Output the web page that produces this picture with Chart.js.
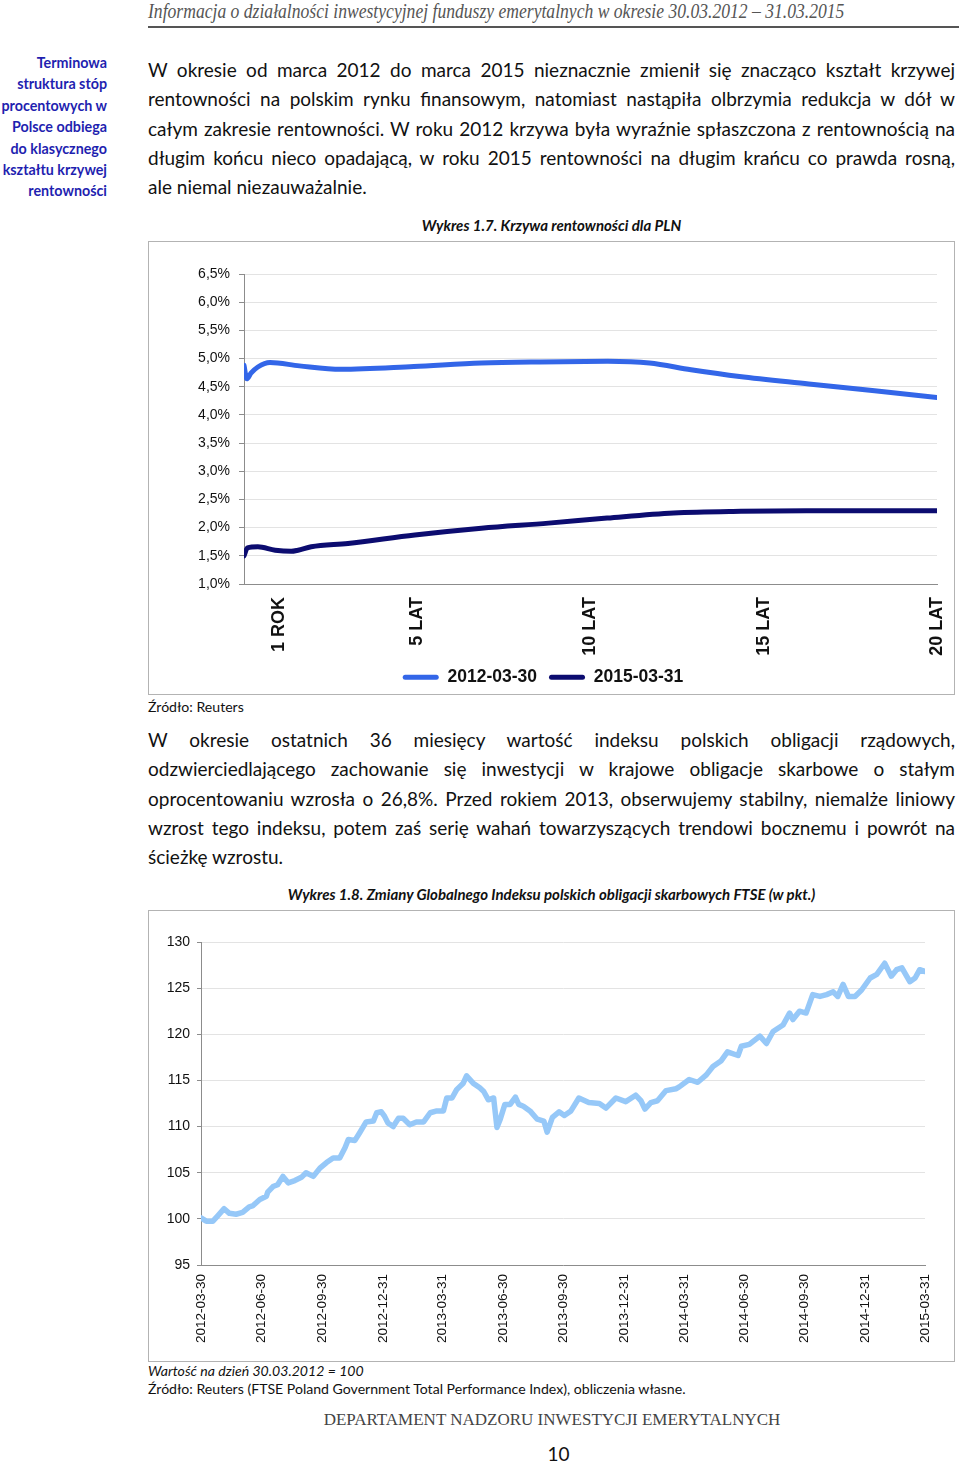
<!DOCTYPE html>
<html lang="pl">
<head>
<meta charset="utf-8">
<title>Krzywa rentowności i indeks obligacji</title>
<script src="https://cdn.jsdelivr.net/npm/chart.js@4.4.1/dist/chart.umd.min.js"></script>
<style>
  body { margin: 0; width: 960px; height: 1463px; position: relative; overflow: hidden; background: #fff; color: #111; font-family: Lato, "Open Sans", sans-serif; }
  .abs { position: absolute; }
  .header { left: 148px; top: 0; font-family: "Liberation Serif", serif; font-style: italic; font-size: 20px; line-height: 22px; color: #555; white-space: nowrap; transform: scaleX(0.88); transform-origin: left top; }
  .rule { left: 148px; top: 26px; width: 811px; border-top: 2px solid #555; }
  .side { left: 0; top: 52px; width: 107px; text-align: right; color: #1f1fb0; font-weight: bold; font-size: 14.3px; line-height: 21.4px; }
  .para { left: 148px; width: 807px; font-size: 19px; line-height: 29.3px; }
  .para div { text-align: justify; text-align-last: justify; white-space: nowrap; }
  .para div.last { text-align-last: left; }
  .caption { left: 148px; width: 807px; text-align: center; font-weight: bold; font-style: italic; font-size: 15px; }
  .note { left: 148px; font-size: 14.1px; line-height: 18px; }
  .box { border: 1px solid #b3b3b3; background: #fff; }
  .footer { left: 0; width: 1104px; text-align: center; top: 1410px; font-family: "Liberation Serif", serif; font-size: 17px; color: #444; }
  .page { left: 0; width: 1117px; text-align: center; top: 1442px; font-size: 19px; }
</style>
</head>
<body>
<div class="abs header">Informacja o działalności inwestycyjnej funduszy emerytalnych w okresie 30.03.2012 – 31.03.2015</div>
<div class="abs rule"></div>

<div class="abs side">Terminowa<br>struktura stóp<br>procentowych w<br>Polsce odbiega<br>do klasycznego<br>kształtu krzywej<br>rentowności</div>

<div class="abs para" style="top:55px">
  <div>W okresie od marca 2012 do marca 2015 nieznacznie zmienił się znacząco kształt krzywej</div>
  <div>rentowności na polskim rynku finansowym, natomiast nastąpiła olbrzymia redukcja w dół w</div>
  <div>całym zakresie rentowności. W roku 2012 krzywa była wyraźnie spłaszczona z rentownością na</div>
  <div>długim końcu nieco opadającą, w roku 2015 rentowności na długim krańcu co prawda rosną,</div>
  <div class="last">ale niemal niezauważalnie.</div>
</div>

<div class="abs caption" style="top:216px">Wykres 1.7. Krzywa rentowności dla PLN</div>
<div class="abs box" style="left:148px; top:241px; width:805px; height:452px;">
  <canvas id="yieldChart" width="805" height="452"></canvas>
</div>
<div class="abs note" style="top:698px">Źródło: Reuters</div>

<div class="abs para" style="top:725px">
  <div>W okresie ostatnich 36 miesięcy wartość indeksu polskich obligacji rządowych,</div>
  <div>odzwierciedlającego zachowanie się inwestycji w krajowe obligacje skarbowe o stałym</div>
  <div>oprocentowaniu wzrosła o 26,8%. Przed rokiem 2013, obserwujemy stabilny, niemalże liniowy</div>
  <div>wzrost tego indeksu, potem zaś serię wahań towarzyszących trendowi bocznemu i powrót na</div>
  <div class="last">ścieżkę wzrostu.</div>
</div>

<div class="abs caption" style="top:885px">Wykres 1.8. Zmiany Globalnego Indeksu polskich obligacji skarbowych FTSE (w pkt.)</div>
<div class="abs box" style="left:148px; top:910px; width:805px; height:450px;">
  <canvas id="indexChart" width="805" height="450"></canvas>
</div>
<div class="abs note" style="top:1362px"><i>Wartość na dzień 30.03.2012 = 100</i><br>Źródło: Reuters (FTSE Poland Government Total Performance Index), obliczenia własne.</div>

<div class="abs footer">DEPARTAMENT NADZORU INWESTYCJI EMERYTALNYCH</div>
<div class="abs page">10</div>

<script>
// krzywa rentowności (lata do wykupu -> rentowność w %)
const maturities2012 = [0, 0.08, 0.2, 0.4, 0.75, 1.6, 2.8, 4.9, 6.85, 8.55, 10.5, 11.7, 12.9, 14.3, 16.3, 18.2, 20];
const yields2012 = [4.88, 4.64, 4.74, 4.85, 4.93, 4.87, 4.81, 4.86, 4.92, 4.94, 4.95, 4.92, 4.80, 4.68, 4.55, 4.43, 4.31];
const maturities2015 = [0, 0.1, 0.4, 0.9, 1.36, 1.56, 1.94, 3, 4.93, 6.85, 8.79, 10.48, 12.4, 14.34, 16.26, 18.18, 20];
const yields2015 = [1.50, 1.64, 1.66, 1.60, 1.58, 1.60, 1.66, 1.72, 1.87, 1.99, 2.08, 2.17, 2.26, 2.29, 2.30, 2.30, 2.30];
const maturityTicks = [1, 5, 10, 15, 20];
const maturityLabels = ["1 ROK", "5 LAT", "10 LAT", "15 LAT", "20 LAT"];

// indeks FTSE (dni od 2012-03-30 -> punkty)
const tickDates = ["2012-03-30", "2012-06-30", "2012-09-30", "2012-12-31", "2013-03-31", "2013-06-30", "2013-09-30",
  "2013-12-31", "2014-03-31", "2014-06-30", "2014-09-30", "2014-12-31", "2015-03-31"];
const indexDays = [0, 8, 18, 25, 35, 43, 53, 63, 73, 78, 89, 99, 101, 109, 116, 124, 132, 142, 152, 159,
  170, 180, 190, 200, 210, 218, 223, 233, 240, 250, 261, 266, 273, 278, 283, 291, 299, 306, 316, 326,
  337, 347, 357, 367, 372, 380, 387, 397, 402, 412, 422, 428, 435, 443, 448, 453, 460, 468, 476, 481,
  488, 498, 509, 519, 524, 532, 542, 550, 560, 572, 587, 603, 613, 628, 643, 658, 666, 672, 681, 691,
  704, 719, 724, 739, 752, 765, 775, 787, 797, 813, 818, 830, 846, 856, 866, 881, 891, 896, 906, 916,
  926, 937, 947, 957, 964, 972, 980, 990, 1000, 1013, 1023, 1035, 1045, 1053, 1061, 1073, 1081, 1088, 1096];
const indexValues = [100.1, 99.75, 99.75, 100.3, 101.1, 100.6, 100.5, 100.7, 101.3, 101.4, 102.1, 102.45, 102.9, 103.5, 103.7, 104.6, 103.9, 104.15, 104.5, 105.0,
  104.6, 105.5, 106.1, 106.6, 106.6, 107.7, 108.6, 108.5, 109.3, 110.5, 110.6, 111.5, 111.6, 111.1, 110.4, 110.0, 110.9, 110.9, 110.2, 110.5,
  110.5, 111.5, 111.7, 111.7, 113.1, 113.1, 114.0, 114.7, 115.5, 114.7, 114.2, 113.8, 112.9, 113.1, 109.9, 110.8, 112.4, 112.4, 113.2, 112.4,
  112.2, 111.7, 110.8, 110.6, 109.4, 111.0, 111.6, 111.2, 111.7, 113.1, 112.6, 112.5, 112.0, 113.1, 112.7, 113.4, 112.8, 111.9, 112.6, 112.8,
  113.9, 114.1, 114.3, 115.1, 114.8, 115.6, 116.5, 117.1, 118.1, 117.7, 118.7, 118.9, 119.8, 119.0, 120.3, 121.0, 122.3, 121.6, 122.5, 122.3,
  124.3, 124.1, 124.3, 124.6, 124.1, 125.4, 124.1, 124.1, 124.8, 126.1, 126.5, 127.7, 126.3, 127.0, 127.2, 125.7, 126.1, 127.0, 126.8];

const startDay = Date.UTC(2012, 2, 30);
const tickDays = tickDates.map((d) => {
  const [y, m, dd] = d.split("-").map(Number);
  return Math.round((Date.UTC(y, m - 1, dd) - startDay) / 86400000);
});

const axisFont = "'Liberation Sans', Arial, sans-serif";
const axisGray = "#8c8c8c";
const gridGray = "#e3e3e3";

const toPoints = (xs, ys) => xs.map((x, i) => ({ x: x, y: ys[i] }));

new Chart(document.getElementById("yieldChart"), {
  type: "line",
  data: {
    datasets: [
      {
        label: "2012-03-30",
        data: toPoints(maturities2012, yields2012),
        borderColor: "#3366e8",
        backgroundColor: "#3366e8",
        borderWidth: 5,
        pointRadius: 0,
        cubicInterpolationMode: "monotone",
        borderCapStyle: "round",
        borderJoinStyle: "round",
      },
      {
        label: "2015-03-31",
        data: toPoints(maturities2015, yields2015),
        borderColor: "#0c0c70",
        backgroundColor: "#0c0c70",
        borderWidth: 5,
        pointRadius: 0,
        cubicInterpolationMode: "monotone",
        borderCapStyle: "round",
        borderJoinStyle: "round",
      },
    ],
  },
  options: {
    responsive: false,
    animation: false,
    layout: { padding: { top: 32, right: 17, left: 0, bottom: -2 } },
    scales: {
      x: {
        type: "linear",
        min: 0,
        max: 20,
        afterBuildTicks: (s) => { s.ticks = maturityTicks.map((v) => ({ value: v })); },
        afterFit: (s) => { s.height = 72.5; s.paddingRight = 0; s.paddingLeft = 0; },
        grid: { display: false, drawTicks: false },
        border: { color: axisGray },
        ticks: {
          autoSkip: false,
          minRotation: 90,
          maxRotation: 90,
          padding: 13,
          color: "#111",
          font: { family: axisFont, size: 18, weight: "bold" },
          callback: (v) => maturityLabels[maturityTicks.indexOf(v)],
        },
      },
      y: {
        min: 1,
        max: 6.5,
        afterFit: (s) => { s.width = 95; },
        grid: { color: gridGray, tickColor: axisGray, tickLength: 5 },
        border: { color: axisGray },
        ticks: {
          stepSize: 0.5,
          padding: 9,
          color: "#111",
          font: { family: axisFont, size: 14 },
          callback: (v) => v.toFixed(1).replace(".", ",") + "%",
        },
      },
    },
    plugins: {
      tooltip: { enabled: false },
      legend: {
        position: "bottom",
        labels: {
          boxWidth: 36,
          boxHeight: 5,
          padding: 12,
          useBorderRadius: true,
          borderRadius: 2.5,
          color: "#111",
          font: { family: axisFont, size: 17.5, weight: "bold" },
          generateLabels: (chart) =>
            Chart.defaults.plugins.legend.labels.generateLabels(chart).map((l) => ({ ...l, lineWidth: 0 })),
        },
      },
    },
  },
});

new Chart(document.getElementById("indexChart"), {
  type: "line",
  data: {
    datasets: [
      {
        label: "FTSE Poland Government",
        data: toPoints(indexDays, indexValues),
        borderColor: "#96c8f8",
        borderWidth: 5.5,
        pointRadius: 0,
        tension: 0,
        borderJoinStyle: "round",
        borderCapStyle: "round",
      },
    ],
  },
  options: {
    responsive: false,
    animation: false,
    layout: { padding: { top: 31, right: 29, left: 0, bottom: 0 } },
    scales: {
      x: {
        type: "linear",
        min: 0,
        max: tickDays[tickDays.length - 1],
        afterBuildTicks: (s) => { s.ticks = tickDays.map((v) => ({ value: v })); },
        afterFit: (s) => { s.height = 96; },
        grid: { display: false, drawTicks: false },
        border: { color: axisGray },
        ticks: {
          autoSkip: false,
          minRotation: 90,
          maxRotation: 90,
          padding: 9,
          color: "#111",
          font: { family: axisFont, size: 13.5 },
          callback: (v) => tickDates[tickDays.indexOf(v)],
        },
      },
      y: {
        min: 95,
        max: 130,
        afterFit: (s) => { s.width = 52; },
        grid: { color: gridGray, tickColor: axisGray, tickLength: 4 },
        border: { color: axisGray },
        ticks: {
          stepSize: 5,
          padding: 7,
          color: "#111",
          font: { family: axisFont, size: 14 },
        },
      },
    },
    plugins: {
      tooltip: { enabled: false },
      legend: { display: false },
    },
  },
});
</script>
</body>
</html>
